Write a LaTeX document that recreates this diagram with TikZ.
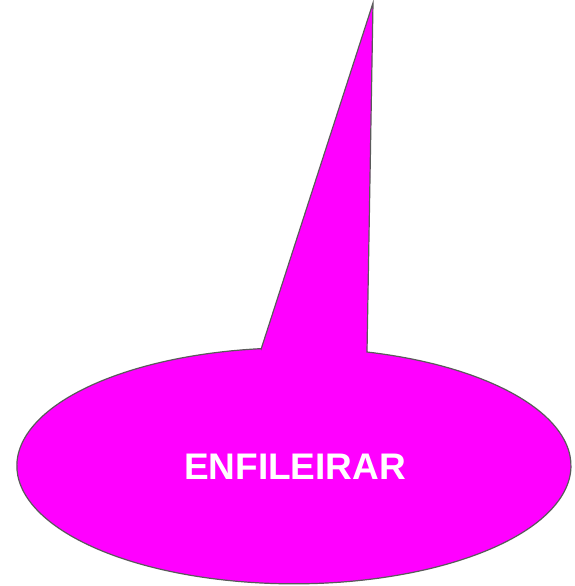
\documentclass[tikz,border=0pt]{standalone}
\usepackage{fontspec}
\setmainfont{Liberation Sans}
\definecolor{calloutpink}{HTML}{FF00FF}
\definecolor{calloutedge}{HTML}{5A5A5A}
\tikzset{
  callout/.style={fill=calloutpink,draw=calloutedge,line width=1.2pt,line join=miter},
  callouttext/.style={text=white,font=\bfseries\fontsize{37}{40}\selectfont,inner sep=0pt}
}

\begin{document}
\begin{tikzpicture}[x=1pt,y=1pt]
  \useasboundingbox (0,0) rectangle (575,586);
  \coordinate (centre) at (294,120);
  \coordinate (tip) at (373,583);
  % speech bubble with its pointer
  \draw[callout] (centre) ++(96.8:277 and 118) coordinate (baseleft)
    -- (tip) -- (367,234) coordinate (baseright)
    arc[start angle=74.7,end angle=-263.2,x radius=277,y radius=118] -- cycle;
  \node[callouttext] (label) at (295,119) {ENFILEIRAR};
\end{tikzpicture}
\end{document}
